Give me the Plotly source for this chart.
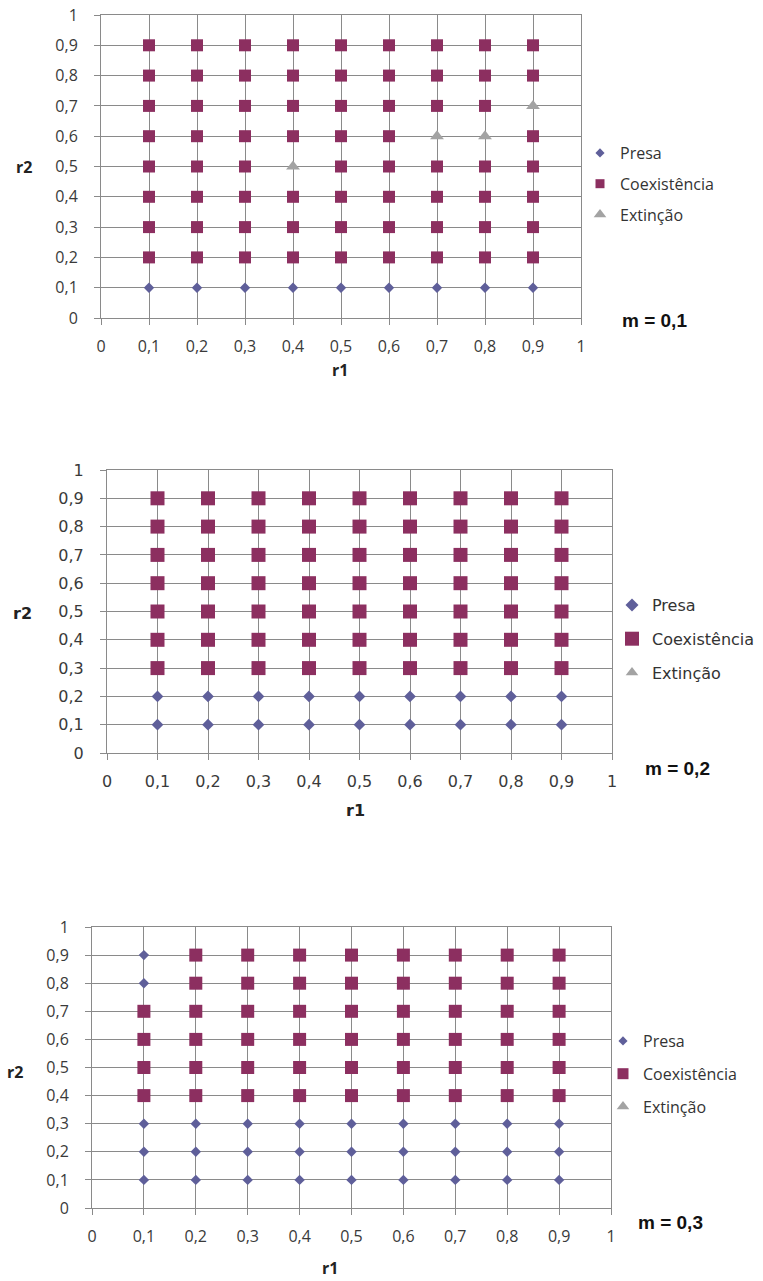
import plotly.graph_objects as go

# r1 grid columns shared by every panel
r1_values = [0.1, 0.2, 0.3, 0.4, 0.5, 0.6, 0.7, 0.8, 0.9]

# Tick positions and their comma-decimal labels
tick_values = [0, 0.1, 0.2, 0.3, 0.4, 0.5, 0.6, 0.7, 0.8, 0.9, 1]
tick_labels = ["0", "0,1", "0,2", "0,3", "0,4", "0,5", "0,6", "0,7", "0,8", "0,9", "1"]

# Outcome per r1 column: list of r2 values, m = 0,1
presa_m1 = [[0.1], [0.1], [0.1], [0.1], [0.1], [0.1], [0.1], [0.1], [0.1]]
coex_m1 = [
    [0.2, 0.3, 0.4, 0.5, 0.6, 0.7, 0.8, 0.9],
    [0.2, 0.3, 0.4, 0.5, 0.6, 0.7, 0.8, 0.9],
    [0.2, 0.3, 0.4, 0.5, 0.6, 0.7, 0.8, 0.9],
    [0.2, 0.3, 0.4, 0.6, 0.7, 0.8, 0.9],
    [0.2, 0.3, 0.4, 0.5, 0.6, 0.7, 0.8, 0.9],
    [0.2, 0.3, 0.4, 0.5, 0.6, 0.7, 0.8, 0.9],
    [0.2, 0.3, 0.4, 0.5, 0.7, 0.8, 0.9],
    [0.2, 0.3, 0.4, 0.5, 0.7, 0.8, 0.9],
    [0.2, 0.3, 0.4, 0.5, 0.6, 0.8, 0.9],
]
ext_m1 = [[], [], [], [0.5], [], [], [0.6], [0.6], [0.7]]

# m = 0,2
presa_m2 = [[0.1, 0.2], [0.1, 0.2], [0.1, 0.2], [0.1, 0.2], [0.1, 0.2],
            [0.1, 0.2], [0.1, 0.2], [0.1, 0.2], [0.1, 0.2]]
coex_m2 = [
    [0.3, 0.4, 0.5, 0.6, 0.7, 0.8, 0.9],
    [0.3, 0.4, 0.5, 0.6, 0.7, 0.8, 0.9],
    [0.3, 0.4, 0.5, 0.6, 0.7, 0.8, 0.9],
    [0.3, 0.4, 0.5, 0.6, 0.7, 0.8, 0.9],
    [0.3, 0.4, 0.5, 0.6, 0.7, 0.8, 0.9],
    [0.3, 0.4, 0.5, 0.6, 0.7, 0.8, 0.9],
    [0.3, 0.4, 0.5, 0.6, 0.7, 0.8, 0.9],
    [0.3, 0.4, 0.5, 0.6, 0.7, 0.8, 0.9],
    [0.3, 0.4, 0.5, 0.6, 0.7, 0.8, 0.9],
]
ext_m2 = [[], [], [], [], [], [], [], [], []]

# m = 0,3
presa_m3 = [
    [0.1, 0.2, 0.3, 0.8, 0.9],
    [0.1, 0.2, 0.3], [0.1, 0.2, 0.3], [0.1, 0.2, 0.3], [0.1, 0.2, 0.3],
    [0.1, 0.2, 0.3], [0.1, 0.2, 0.3], [0.1, 0.2, 0.3], [0.1, 0.2, 0.3],
]
coex_m3 = [
    [0.4, 0.5, 0.6, 0.7],
    [0.4, 0.5, 0.6, 0.7, 0.8, 0.9],
    [0.4, 0.5, 0.6, 0.7, 0.8, 0.9],
    [0.4, 0.5, 0.6, 0.7, 0.8, 0.9],
    [0.4, 0.5, 0.6, 0.7, 0.8, 0.9],
    [0.4, 0.5, 0.6, 0.7, 0.8, 0.9],
    [0.4, 0.5, 0.6, 0.7, 0.8, 0.9],
    [0.4, 0.5, 0.6, 0.7, 0.8, 0.9],
    [0.4, 0.5, 0.6, 0.7, 0.8, 0.9],
]
ext_m3 = [[], [], [], [], [], [], [], [], []]

series_names = ["Presa", "Coexistência", "Extinção"]
panel_labels = ["m = 0,1", "m = 0,2", "m = 0,3"]

W, H = 763, 1281
COL_PRESA = "#5f5f9a"
COL_COEX = "#8c2f60"
COL_EXT = "#a3a3a3"
GRID = "#8a8a8a"


def flatten(columns):
    xs, ys = [], []
    for r1, col in zip(r1_values, columns):
        for r2 in col:
            xs.append(r1)
            ys.append(r2)
    return xs, ys


# Pixel geometry of each panel: plot box, fonts, marker sizes, legend/label spots
panels = [
    dict(data=(presa_m1, coex_m1, ext_m1), box=(101, 581, 15, 318), font="Open Sans",
         fs=16, sq=12, dm=8, tr=12, leg=(580, 136), legfs=16, gap=7,
         legsizes=(7, 9, 11),
         r1=(340, 370), r2=(24, 167), m=(654, 320)),
    dict(data=(presa_m2, coex_m2, ext_m2), box=(107, 612, 470, 753), font="DejaVu Sans",
         fs=16, sq=14, dm=9, tr=11, leg=(612, 588), legfs=16, gap=10,
         legsizes=(10, 14, 11),
         r1=(355, 810), r2=(22, 613), m=(677, 768)),
    dict(data=(presa_m3, coex_m3, ext_m3), box=(92, 611, 927, 1208), font="Open Sans",
         fs=16, sq=13, dm=8, tr=11, leg=(603, 1024), legfs=16, gap=9,
         legsizes=(7, 11, 11),
         r1=(330, 1268), r2=(15, 1072), m=(670, 1222)),
]

fig = go.Figure()
annotations = []
layout = {}

for i, p in enumerate(panels):
    n = "" if i == 0 else str(i + 1)
    xa, ya = "x" + n, "y" + n
    leg = "legend" + n
    x0, x1, yt, yb = p["box"]
    presa, coex, ext = p["data"]

    specs = [
        (presa, "diamond", p["dm"], COL_PRESA),
        (coex, "square", p["sq"], COL_COEX),
        (ext, "triangle-up", p["tr"], COL_EXT),
    ]
    for k, (name, (cols, sym, size, color)) in enumerate(zip(series_names, specs)):
        xs, ys = flatten(cols)
        if not xs:
            xs, ys = [None], [None]
        fig.add_trace(go.Scatter(
            x=xs, y=ys, mode="markers", name=name,
            marker=dict(symbol=sym, size=size, color=color, line=dict(width=0)),
            xaxis=xa, yaxis=ya, legend=leg, legendgroup=f"{i}-{name}",
            hoverinfo="skip", showlegend=False,
        ))
        # Legend entry drawn with its own marker size
        fig.add_trace(go.Scatter(
            x=[None], y=[None], mode="markers", name=name,
            marker=dict(symbol=sym, size=p["legsizes"][k], color=color, line=dict(width=0)),
            xaxis=xa, yaxis=ya, legend=leg, legendgroup=f"{i}-{name}",
            hoverinfo="skip",
        ))

    axis_common = dict(
        range=[0, 1], tickvals=tick_values, ticktext=tick_labels,
        showgrid=True, gridcolor=GRID, gridwidth=1, zeroline=False,
        showline=True, linecolor=GRID, linewidth=1, mirror=True,
        ticks="outside", ticklen=6, tickcolor=GRID, automargin=False,
        tickfont=dict(family=p["font"], size=p["fs"], color="#3a3a3a"),
        fixedrange=True,
    )
    layout["xaxis" + n] = dict(axis_common, domain=[x0 / W, x1 / W], anchor=ya,
                               ticklabelstandoff=8)
    layout["yaxis" + n] = dict(axis_common, domain=[1 - yb / H, 1 - yt / H], anchor=xa,
                               ticklabelstandoff=13)

    lx, ly = p["leg"]
    layout[leg] = dict(
        x=lx / W, y=1 - ly / H, xanchor="left", yanchor="top",
        xref="paper", yref="paper", bgcolor="rgba(255,255,255,0)",
        font=dict(family=p["font"], size=p["legfs"], color="#333333"),
        tracegroupgap=p["gap"], traceorder="grouped", itemsizing="trace",
        itemwidth=30,
    )

    bold = dict(family=p["font"], size=16, color="#222222")
    for txt, (px, py), fnt in (
        ("<b>r1</b>", p["r1"], bold),
        ("<b>r2</b>", p["r2"], bold),
        ("<b>" + panel_labels[i] + "</b>", p["m"],
         dict(family="Liberation Sans", size=19, color="#111111")),
    ):
        annotations.append(dict(text=txt, x=px / W, y=1 - py / H,
                                xref="paper", yref="paper", xanchor="center",
                                yanchor="middle", showarrow=False, font=fnt))

fig.update_layout(
    width=W, height=H, margin=dict(l=0, r=0, t=0, b=0, pad=0, autoexpand=False),
    paper_bgcolor="white", plot_bgcolor="white",
    annotations=annotations, **layout,
)

fig.write_html("out.html")
